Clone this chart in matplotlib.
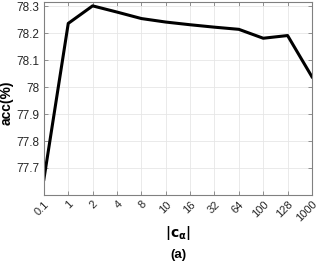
import matplotlib
matplotlib.use("Agg")
import matplotlib.pyplot as plt

plt.rcParams['font.family'] = ['Liberation Sans', 'DejaVu Sans']

# valeurs
c_labels = ['0.1', '1', '2', '4', '8', '10', '16', '32', '64', '100', '128', '1000']
acc = [77.658, 78.236, 78.301, 78.278, 78.254, 78.241, 78.231, 78.222, 78.214, 78.181, 78.191, 78.038]
y_ticks = [77.7, 77.8, 77.9, 78.0, 78.1, 78.2, 78.3]
y_tick_labels = ['77.7', '77.8', '77.9', '78', '78.1', '78.2', '78.3']

fig = plt.figure(figsize=(3.18, 2.61), dpi=100)
ax = fig.add_axes([0.138, 0.253, 0.843, 0.739])

x = list(range(len(c_labels)))
ax.plot(x, acc, color='black', linewidth=2.2)

ax.set_xlim(0, len(c_labels) - 1)
ax.set_ylim(77.6, 78.315)
ax.set_xticks(x)
ax.set_xticklabels(c_labels, rotation=45, ha='right', rotation_mode='anchor')
ax.set_yticks(y_ticks)
ax.set_yticklabels(y_tick_labels)

for lab in ax.get_xticklabels():
    lab.set_fontsize(8.0)
    lab.set_color('#262626')
for lab in ax.get_yticklabels():
    lab.set_fontsize(8.5)
    lab.set_color('#262626')

ax.grid(True, color='#e6e6e6', linewidth=0.6)
ax.set_axisbelow(True)
ax.tick_params(direction='in', length=3, color='#808080', top=True, right=True,
               width=0.6, pad=3)
for s in ax.spines.values():
    s.set_color('#808080')
    s.set_linewidth(0.8)

ax.set_ylabel('acc(%)', fontsize=10, fontweight='bold')
ax.yaxis.set_label_coords(-0.112, 0.477)
fig.text(0.56, 0.107, r'$\mathbf{|c_{\alpha}|}$', fontsize=10, ha='center', va='center')
fig.text(0.56, 0.022, '(a)', fontsize=9.5, fontweight='bold', ha='center', va='center')

fig.savefig('out.png', dpi=100)
